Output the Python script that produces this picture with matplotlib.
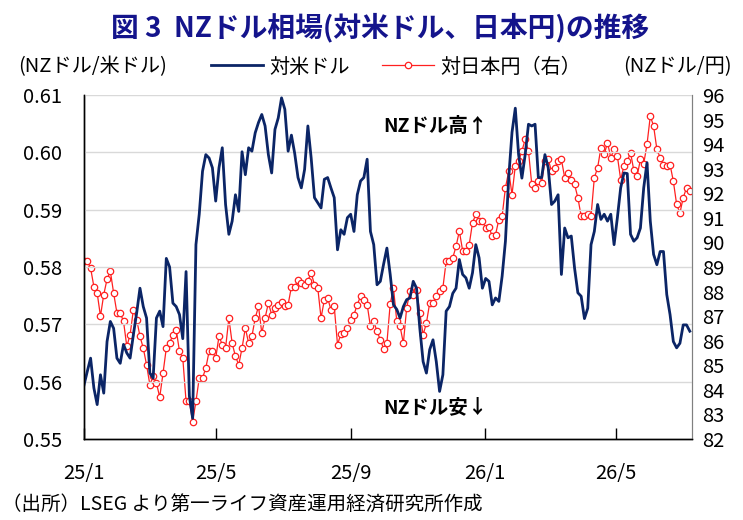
import matplotlib
matplotlib.use("Agg")
import matplotlib.pyplot as plt
from matplotlib.lines import Line2D
import pandas as pd

plt.rcParams['font.family'] = ['Noto Sans CJK JP', 'DejaVu Sans']

# ---- data (sampled every 3 days from 2025-01-01) ----
start_date = "2025-01-01"
step = "3D"

nzd_usd = [
    0.5594, 0.5618, 0.5641, 0.5589, 0.5560, 0.5612, 0.5580, 0.5670, 0.5705, 0.5693,
    0.5641, 0.5632, 0.5665, 0.5650, 0.5641, 0.5682, 0.5720, 0.5763, 0.5731, 0.5711,
    0.5615, 0.5606, 0.5711, 0.5723, 0.5696, 0.5815, 0.5800, 0.5737, 0.5731, 0.5717,
    0.5675, 0.5792, 0.5575, 0.5536, 0.5839, 0.5892, 0.5967, 0.5996, 0.5990, 0.5973,
    0.5915, 0.5973, 0.6008, 0.5909, 0.5857, 0.5880, 0.5926, 0.5897, 0.6001, 0.5961,
    0.6008, 0.6002, 0.6034, 0.6052, 0.6066, 0.6046, 0.5996, 0.5964, 0.6040, 0.6060,
    0.6095, 0.6075, 0.6002, 0.6030, 0.5998, 0.5956, 0.5938, 0.5970, 0.6046, 0.5990,
    0.5921, 0.5912, 0.5903, 0.5953, 0.5956, 0.5938, 0.5921, 0.5830, 0.5865, 0.5857,
    0.5886, 0.5892, 0.5862, 0.5926, 0.5950, 0.5956, 0.5988, 0.5862, 0.5839, 0.5769,
    0.5775, 0.5805, 0.5833, 0.5787, 0.5734, 0.5726, 0.5711, 0.5731, 0.5743, 0.5746,
    0.5775, 0.5763, 0.5693, 0.5635, 0.5615, 0.5656, 0.5673, 0.5635, 0.5583, 0.5612,
    0.5723, 0.5731, 0.5754, 0.5763, 0.5813, 0.5787, 0.5781, 0.5763, 0.5790, 0.5839,
    0.5816, 0.5763, 0.5780, 0.5775, 0.5734, 0.5746, 0.5740, 0.5784, 0.5845, 0.5956,
    0.6035, 0.6077, 0.5996, 0.5955, 0.5996, 0.6049, 0.6046, 0.6049, 0.5956, 0.5956,
    0.5996, 0.5973, 0.5909, 0.5915, 0.5926, 0.5787, 0.5868, 0.5851, 0.5854, 0.5798,
    0.5755, 0.5749, 0.5710, 0.5728, 0.5839, 0.5862, 0.5909, 0.5883, 0.5892, 0.5880,
    0.5892, 0.5839, 0.5886, 0.5938, 0.5964, 0.5963, 0.5857, 0.5845, 0.5851, 0.5868,
    0.5938, 0.5982, 0.5880, 0.5822, 0.5804, 0.5827, 0.5827, 0.5752, 0.5717, 0.5670,
    0.5659, 0.5667, 0.5699, 0.5699, 0.5688,
]

nzd_jpy = [
    89.23, 89.23, 88.96, 88.20, 87.94, 87.00, 87.88, 88.50, 88.83, 87.94,
    87.13, 87.13, 86.79, 85.77, 86.24, 87.26, 86.86, 86.18, 85.70, 85.02,
    84.21, 84.55, 84.28, 83.70, 84.68, 85.70, 85.90, 86.24, 86.45, 85.57,
    85.30, 83.53, 83.53, 82.71, 83.53, 84.48, 84.48, 84.89, 85.57, 85.57,
    85.29, 86.18, 85.84, 85.70, 86.92, 85.90, 85.36, 85.02, 85.70, 86.52,
    85.90, 86.18, 86.92, 87.40, 86.31, 86.92, 87.54, 87.06, 87.33, 87.47,
    87.58, 87.40, 87.47, 88.20, 88.17, 88.49, 88.35, 88.28, 88.45, 88.76,
    88.28, 88.15, 86.92, 87.67, 87.74, 87.26, 87.40, 85.84, 86.27, 86.31,
    86.52, 86.86, 87.06, 87.47, 87.81, 87.67, 87.47, 86.58, 86.79, 86.38,
    86.04, 85.67, 85.90, 87.50, 88.15, 86.79, 86.58, 85.90, 87.33, 88.01,
    87.88, 88.08, 87.13, 86.24, 86.72, 87.54, 87.54, 87.81, 88.01, 88.15,
    89.23, 89.23, 89.37, 89.84, 90.46, 89.67, 89.64, 89.91, 90.80, 91.14,
    90.86, 90.86, 90.60, 90.62, 90.25, 90.32, 90.93, 91.07, 92.22, 92.90,
    91.95, 93.11, 93.31, 93.72, 94.19, 93.72, 92.36, 92.22, 92.49, 92.42,
    93.31, 93.38, 92.90, 93.04, 93.31, 93.38, 92.63, 92.83, 92.56, 92.36,
    91.82, 91.07, 91.07, 91.14, 91.07, 92.63, 93.04, 93.85, 93.58, 94.06,
    93.45, 93.79, 93.51, 92.56, 93.11, 93.31, 93.65, 92.93, 92.70, 93.38,
    93.20, 93.99, 95.14, 94.74, 93.79, 93.45, 93.17, 93.11, 93.17, 92.49,
    91.55, 91.20, 91.82, 92.22, 92.09,
]

tick_dates = ["2025-01-01", "2025-05-01", "2025-09-01", "2026-01-01", "2026-05-01"]
tick_labels = ["25/1", "25/5", "25/9", "26/1", "26/5"]

left_ticks = [0.55, 0.56, 0.57, 0.58, 0.59, 0.60, 0.61]
right_ticks = list(range(82, 97))

title = "図 3  NZドル相場(対米ドル、日本円)の推移"
label_usd = "対米ドル"
label_jpy = "対日本円（右）"
left_unit = "(NZドル/米ドル)"
right_unit = "(NZドル/円)"
note_high = "NZドル高↑"
note_low = "NZドル安↓"
source = "（出所）LSEG より第一ライフ資産運用経済研究所作成"

# ---- figure ----
W, H = 743, 520
fig = plt.figure(figsize=(W / 100, H / 100), dpi=100)
ax = fig.add_axes([84 / W, 1 - 439 / H, (692 - 84) / W, (439 - 95) / H])
ax2 = ax.twinx()

n = len(nzd_usd)
dates = pd.date_range(start_date, periods=n, freq=step)

navy = "#0B2566"
red = "#FF2020"

ax.set_zorder(ax2.get_zorder() + 1)
ax.patch.set_visible(False)

ax.plot(dates, nzd_usd, color=navy, lw=2.0, solid_joinstyle="round")
ax2.plot(dates, nzd_jpy, color=red, lw=0.9, marker="o", ms=4.6,
         mfc="white", mec=red, mew=0.9)

ax.set_ylim(0.55, 0.61)
ax.set_yticks(left_ticks)
ax.set_yticklabels([f"{v:.2f}" for v in left_ticks])
ax2.set_ylim(82, 96)
ax2.set_yticks(right_ticks)
ax2.set_yticklabels([str(v) for v in right_ticks])

ax.set_xlim(pd.Timestamp("2025-01-01"), pd.Timestamp("2026-07-09"))
ax.set_xticks(pd.to_datetime(tick_dates))
ax.set_xticklabels(tick_labels)

for v in left_ticks:
    ax.axhline(v, color="#d9d9d9", lw=1.0, zorder=0)

ax.tick_params(axis="y", length=0, pad=16, labelsize=14.5)
ax2.tick_params(axis="y", length=0, pad=7, labelsize=14.5)
ax.tick_params(axis="x", direction="in", length=8, width=1, pad=17, labelsize=14.5)

for a in (ax, ax2):
    a.spines["top"].set_visible(False)
    a.spines["left"].set_color("black")
    a.spines["bottom"].set_color("black")
    a.spines["right"].set_color("#808080")
    a.spines["left"].set_linewidth(1.0)
    a.spines["bottom"].set_linewidth(1.0)

fig.text(380 / W, 1 - 28 / H, title, ha="center", va="center",
         fontsize=20, fontweight="bold", color="#14148C")
fig.text(18 / W, 1 - 67 / H, left_unit, ha="left", va="center", fontsize=14.5)
fig.text(732 / W, 1 - 67 / H, right_unit, ha="right", va="center", fontsize=14.5)

handles = [
    Line2D([], [], color=navy, lw=2.0),
    Line2D([], [], color=red, lw=0.9, marker="o", ms=4.6, mfc="white", mec=red, mew=0.9),
]
fig.legend(handles, [label_usd, label_jpy], loc="center",
           bbox_to_anchor=(396 / W, 1 - 67 / H), ncol=2, frameon=False,
           fontsize=14.5, handlelength=2.6, columnspacing=1.6, handletextpad=0.3)

fig.text(383 / W, 1 - 126 / H, note_high, ha="left", va="center",
         fontsize=14, fontweight="bold")
fig.text(383 / W, 1 - 408 / H, note_low, ha="left", va="center",
         fontsize=14, fontweight="bold")

fig.text(2 / W, 1 - 505 / H, source, ha="left", va="center", fontsize=14)

fig.savefig("out.png", dpi=100)
